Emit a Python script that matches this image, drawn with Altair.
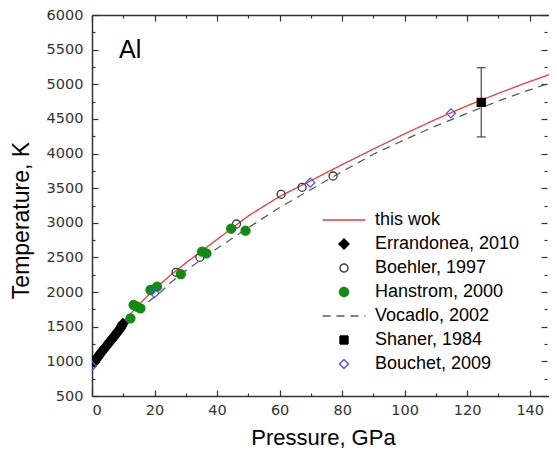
import altair as alt
import pandas as pd

# ---------------- data ----------------
series_names = ["this wok", "Errandonea, 2010", "Boehler, 1997", "Hanstrom, 2000",
                "Vocadlo, 2002", "Shaner, 1984", "Bouchet, 2009"]

this_work_p = [0, 2, 4, 6, 8, 10, 15, 20, 25, 30, 35, 40, 45, 50, 60, 70, 80, 90,
               100, 110, 120, 130, 140, 150]
this_work_t = [933, 1085, 1220, 1345, 1460, 1570, 1820, 2045, 2240, 2420, 2590, 2760,
               2930, 3100, 3380, 3610, 3840, 4065, 4285, 4495, 4690, 4870, 5040, 5200]

vocadlo_p = [18, 22, 25, 30, 35, 40, 50, 60, 70, 80, 90, 100, 110, 120, 130, 140, 150]
vocadlo_t = [1860, 2000, 2130, 2310, 2470, 2630, 2930, 3220, 3480, 3740, 3990, 4200,
             4400, 4580, 4760, 4920, 5070]

errandonea_p = [0.8, 1.2, 1.6, 2.0, 2.4, 2.9, 3.3, 3.7, 4.1, 4.5, 5.0, 5.4, 5.8, 6.2,
                6.6, 7.0, 7.5, 7.9, 8.3, 8.7, 9.1, 9.5, 9.9]
errandonea_t = [990, 1020, 1045, 1070, 1095, 1125, 1150, 1170, 1195, 1215, 1245, 1265,
                1290, 1310, 1335, 1355, 1385, 1410, 1430, 1455, 1480, 1510, 1545]

boehler_p = [26.9, 34.5, 46.2, 60.5, 67.2, 77.1]
boehler_t = [2286, 2502, 2983, 3412, 3513, 3676]

hanstrom_p = [12.3, 13.3, 14.4, 15.5, 18.7, 20.8, 28.4, 35.2, 36.6, 44.5, 49.1]
hanstrom_t = [1622, 1814, 1789, 1766, 2030, 2078, 2258, 2583, 2560, 2915, 2886]

shaner_p = [124.5]
shaner_t = [4740]
shaner_t_low = [4240]
shaner_t_high = [5240]

bouchet_p = [0.0, 20.0, 69.8, 114.8, 148.8]
bouchet_t = [933, 1985, 3580, 4580, 5125]

x_major = [0, 20, 40, 60, 80, 100, 120, 140]
x_minor = [10, 30, 50, 70, 90, 110, 130, 150]
y_major = [500, 1000, 1500, 2000, 2500, 3000, 3500, 4000, 4500, 5000, 5500, 6000]
y_minor = [750, 1250, 1750, 2250, 2750, 3250, 3750, 4250, 4750, 5250, 5750]

# ---------------- styles ----------------
stroke_colors = ["#ee3b3b", "#000000", "#3a3a3a", "#138a13", "#5a5a5a", "#000000", "#5050ee"]
fill_colors = ["transparent", "#000000", "transparent", "#138a13", "transparent", "#000000", "transparent"]
# symbol outlines in units of half the symbol size (size 100 -> 5 px per unit)
LINE = "M-4.3,0L4.3,0"
shapes = [LINE,
          "M-1,0L0,-1L1,0L0,1Z",
          "M-0.8,0A0.8,0.8,0,1,0,0.8,0A0.8,0.8,0,1,0,-0.8,0Z",
          "M-0.9,0A0.9,0.9,0,1,0,0.9,0A0.9,0.9,0,1,0,-0.9,0Z",
          LINE,
          "M-0.8,-0.8L0.8,-0.8L0.8,0.8L-0.8,0.8Z",
          "M-0.9,0L0,-0.9L0.9,0L0,0.9Z"]
dashes = [[1, 0], [1, 0], [1, 0], [1, 0], [8, 6], [1, 0], [1, 0]]

AX = "#333333"
PLOT_W = 469
CUT = 12  # the right strip of the frame lies past the picture's edge, as in the reference
xs = alt.Scale(domain=[0, 150], nice=False, zero=False)
ys = alt.Scale(domain=[500, 6000], nice=False, zero=False)

legend = alt.Legend(title=None, orient="none", legendX=243, legendY=196,
                    labelFont="Liberation Sans", labelFontSize=18, labelColor="#000000",
                    labelOffset=22, rowPadding=6, symbolSize=100, symbolStrokeWidth=1.4,
                    labelLimit=300)


def sc(kind):
    rng = {"stroke": stroke_colors, "fill": fill_colors, "shape": shapes, "dash": dashes}[kind]
    return alt.Scale(domain=series_names, range=rng)


def tick_axis(orient, values, size, extra=0):
    return alt.Axis(orient=orient, values=values, labels=False, domain=False, grid=False,
                    title=None, ticks=True, tickSize=size, offset=-size - extra,
                    tickColor=AX, tickWidth=1.2)


x_main = alt.Axis(orient="bottom", values=x_major, ticks=False, tickSize=0, domain=True,
                  domainColor=AX, domainWidth=1.5, grid=False, labelFont="DejaVu Sans",
                  labelFontSize=14.5, labelColor=AX, labelPadding=7,
                  title="Pressure, GPa", titleFont="Liberation Sans", titleFontSize=22,
                  titleFontWeight="normal", titleColor="#000000", titleX=231, titleY=48,
                  titleBaseline="alphabetic")
y_main = alt.Axis(orient="left", values=y_major, format="d", ticks=False, tickSize=0,
                  domain=True, domainColor=AX, domainWidth=1.5, grid=False,
                  labelFont="DejaVu Sans", labelFontSize=14.5, labelColor=AX, labelPadding=9,
                  title="Temperature, K", titleFont="Liberation Sans", titleFontSize=23,
                  titleFontWeight="normal", titleColor="#000000", titleAngle=270,
                  titleX=-64, titleY=205, titleBaseline="alphabetic", titleAlign="center")
x_top_domain = alt.Axis(orient="top", values=x_major, ticks=False, tickSize=0, labels=False,
                        domain=True, domainColor=AX, domainWidth=1.3, grid=False, title=None)


def df(p, t, name):
    return pd.DataFrame({"P": p, "T": t, "series": name})


def X(axis):
    return alt.X("P:Q", scale=xs, axis=axis)


def Y(axis):
    return alt.Y("T:Q", scale=ys, axis=axis)


def line_layer(data, xa, ya):
    return alt.Chart(data).mark_line(strokeWidth=1.3, clip=True).encode(
        x=X(xa), y=Y(ya),
        stroke=alt.Stroke("series:N", scale=sc("stroke"), legend=legend),
        strokeDash=alt.StrokeDash("series:N", scale=sc("dash"), legend=legend),
    )


def point_layer(data, xa, ya):
    return alt.Chart(data).mark_point(filled=True, opacity=1, strokeWidth=1.3, size=100,
                                      clip=True).encode(
        x=X(xa), y=Y(ya),
        stroke=alt.Stroke("series:N", scale=sc("stroke"), legend=legend),
        fill=alt.Fill("series:N", scale=sc("fill"), legend=legend),
        shape=alt.Shape("series:N", scale=sc("shape"), legend=legend),
    )


red = line_layer(df(this_work_p, this_work_t, series_names[0]), x_main, y_main)
voc = line_layer(df(vocadlo_p, vocadlo_t, series_names[4]),
                 tick_axis("bottom", x_major, 6), tick_axis("left", y_major, 6))
err = point_layer(df(errandonea_p, errandonea_t, series_names[1]),
                  tick_axis("bottom", x_minor, 3), tick_axis("left", y_minor, 3))
boe = point_layer(df(boehler_p, boehler_t, series_names[2]),
                  x_top_domain, tick_axis("right", y_major, 6, CUT + 2))
han = point_layer(df(hanstrom_p, hanstrom_t, series_names[3]),
                  tick_axis("top", x_major, 6), tick_axis("right", y_minor, 3, CUT + 2))
bou = point_layer(df(bouchet_p, bouchet_t, series_names[6]),
                  tick_axis("top", x_minor, 3), None)

shaner_err = pd.DataFrame({"P": shaner_p, "lo": shaner_t_low, "hi": shaner_t_high})
bar = alt.Chart(shaner_err).mark_rule(color="#555555", strokeWidth=1.3).encode(
    x=alt.X("P:Q", scale=xs, axis=None),
    y=alt.Y("lo:Q", scale=ys, axis=None), y2="hi:Q")
cap_lo = alt.Chart(shaner_err).mark_rule(color="#555555", strokeWidth=1.3,
                                         xOffset=-4.5, x2Offset=4.5).encode(
    x=alt.X("P:Q", scale=xs, axis=None), x2="P:Q",
    y=alt.Y("lo:Q", scale=ys, axis=None))
cap_hi = alt.Chart(shaner_err).mark_rule(color="#555555", strokeWidth=1.3,
                                         xOffset=-4.5, x2Offset=4.5).encode(
    x=alt.X("P:Q", scale=xs, axis=None), x2="P:Q",
    y=alt.Y("hi:Q", scale=ys, axis=None))
sha = point_layer(df(shaner_p, shaner_t, series_names[5]), None, None)

label = alt.Chart(pd.DataFrame({"txt": ["Al"]})).mark_text(
    align="left", baseline="alphabetic", font="Liberation Sans", fontSize=25,
    color="#000000", x=27, y=43).encode(text="txt:N")

chart = alt.layer(red, voc, err, boe, han, bou, bar, cap_lo, cap_hi, sha, label).resolve_axis(
    x="independent", y="independent"
).properties(
    width=PLOT_W, height=381,
    padding={"left": 84, "top": 7, "right": -CUT, "bottom": 53},
    autosize=alt.AutoSizeParams(type="none"),
    background="white",
).configure_view(stroke=None)

chart.save("out.html", embed_options={"renderer": "svg", "actions": False})
